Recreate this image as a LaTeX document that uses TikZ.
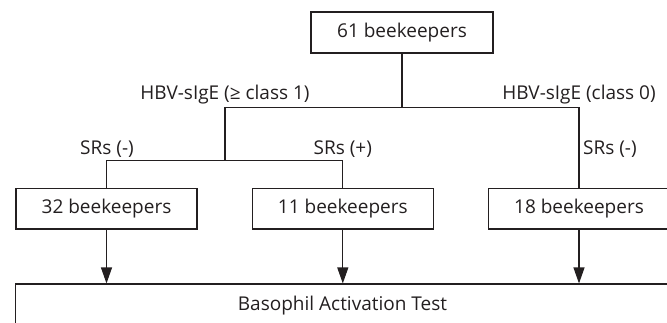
\documentclass[tikz,border=0pt]{standalone}
\usepackage{fontspec}
\setmainfont{Open Sans}
\usetikzlibrary{arrows.meta}
\definecolor{ink}{HTML}{231F20}
\begin{document}
\begin{tikzpicture}[x=1pt,y=1pt,
  box/.style={draw=ink, line width=1.1pt, minimum width=181pt, minimum height=40.5pt, inner sep=0pt, font=\fontsize{19}{22}\selectfont, text=ink},
  lbl/.style={inner sep=0pt, font=\fontsize{19}{22}\selectfont, text=ink},
  conn/.style={draw=ink, line width=1.1pt},
  arr/.style={conn, -{Triangle[length=16pt,width=11pt]}}]
\useasboundingbox (0,0) rectangle (667,322);
\clip (0,0) rectangle (667,322);
\node[box, minimum width=182pt, minimum height=41pt] (top) at (402,289.5) {61 beekeepers};
\coordinate (j1) at (402,214.5);
\coordinate (cL) at (225,214.5);
\coordinate (cR) at (579,214.5);
\coordinate (j2) at (225,161.3);
\coordinate (dL) at (106.5,161.3);
\coordinate (dR) at (342.8,161.3);
\node[box] (b1) at (106.5,113.25) {32 beekeepers};
\node[box] (b2) at (342.8,113.25) {11 beekeepers};
\node[box] (b3) at (579,113.25) {18 beekeepers};
\node[box, minimum width=653.6pt, minimum height=44pt] (bat) at (342.5,16) {Basophil Activation Test};
\draw[conn] (top.south) -- (j1);
\draw[conn] (b3.north) -- (cR) -- (cL) -- (j2);
\draw[conn] (b1.north) -- (dL) -- (dR) -- (b2.north);
\draw[arr] (b1.south) -- (b1.south |- bat.north);
\draw[arr] (b2.south) -- (b2.south |- bat.north);
\draw[arr] (b3.south) -- (b3.south |- bat.north);
\node[lbl] (l1) at (225,227) {HBV-sIgE (≥ class 1)};
\node[lbl] (l2) at (579,227) {HBV-sIgE (class 0)};
\node[lbl] (s1) at (107,173) {SRs (-)};
\node[lbl] (s2) at (342.8,173) {SRs (+)};
\node[lbl, anchor=west] (s3) at (583,173) {SRs (-)};
\end{tikzpicture}
\end{document}
